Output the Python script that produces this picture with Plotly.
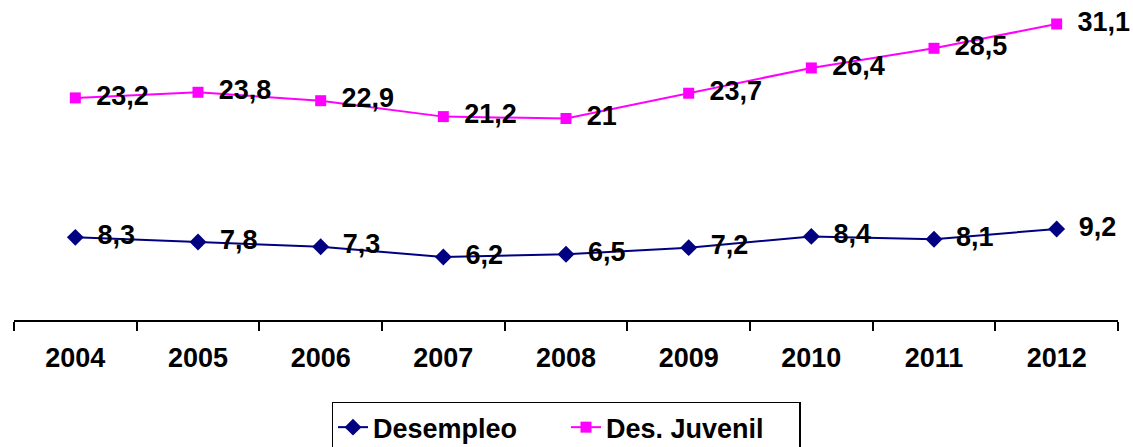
import plotly.graph_objects as go

years = ["2004", "2005", "2006", "2007", "2008", "2009", "2010", "2011", "2012"]
desempleo = [8.3, 7.8, 7.3, 6.2, 6.5, 7.2, 8.4, 8.1, 9.2]
des_juvenil = [23.2, 23.8, 22.9, 21.2, 21.0, 23.7, 26.4, 28.5, 31.1]

def fmt(v):
    return ("%g" % v).replace(".", ",")

FONT = "Arial, Liberation Sans, sans-serif"
PAD = "\u00a0\u2009"

fig = go.Figure()
fig.add_trace(go.Scatter(
    x=years, y=desempleo, name="Desempleo",
    mode="lines+markers+text",
    line=dict(color="#000080", width=2),
    marker=dict(symbol="diamond", size=13, color="#000080"),
    text=[PAD + "<b>" + fmt(v) + "</b>" for v in desempleo],
    textposition="middle right",
    textfont=dict(family=FONT, size=27, color="black"),
    cliponaxis=False,
))
fig.add_trace(go.Scatter(
    x=years, y=des_juvenil, name="Des. Juvenil",
    mode="lines+markers+text",
    line=dict(color="#FF00FF", width=2),
    marker=dict(symbol="square", size=11, color="#FF00FF"),
    text=[PAD + "<b>" + fmt(v) + "</b>" for v in des_juvenil],
    textposition="middle right",
    textfont=dict(family=FONT, size=27, color="black"),
    cliponaxis=False,
))

fig.update_layout(
    width=1133, height=447,
    margin=dict(l=14, r=15, t=0, b=127, autoexpand=False),
    plot_bgcolor="white", paper_bgcolor="white",
    font=dict(family=FONT, color="black"),
    showlegend=True,
    legend=dict(
        orientation="h", x=0.5, xanchor="center", y=-0.255, yanchor="top",
        bordercolor="black", borderwidth=1.5,
        font=dict(family=FONT, size=27, color="black", weight="bold"),
        entrywidth=188, entrywidthmode="pixels",
        tracegroupgap=0,
    ),
    xaxis=dict(
        type="category", tickson="boundaries",
        ticks="outside", ticklen=9, tickwidth=2, tickcolor="black",
        showline=True, linecolor="black", linewidth=2,
        showgrid=False, zeroline=False,
        tickfont=dict(family=FONT, size=27, color="black", weight="bold"),
        ticklabelstandoff=13,
        range=[-0.5, 8.5],
    ),
    yaxis=dict(
        range=[-0.53, 33.66], visible=False, showgrid=False, zeroline=False,
    ),
)

fig.write_html(
    "out.html",
    config={"displayModeBar": False},
    post_script="document.body.style.margin='0';document.body.style.overflow='hidden';",
)
